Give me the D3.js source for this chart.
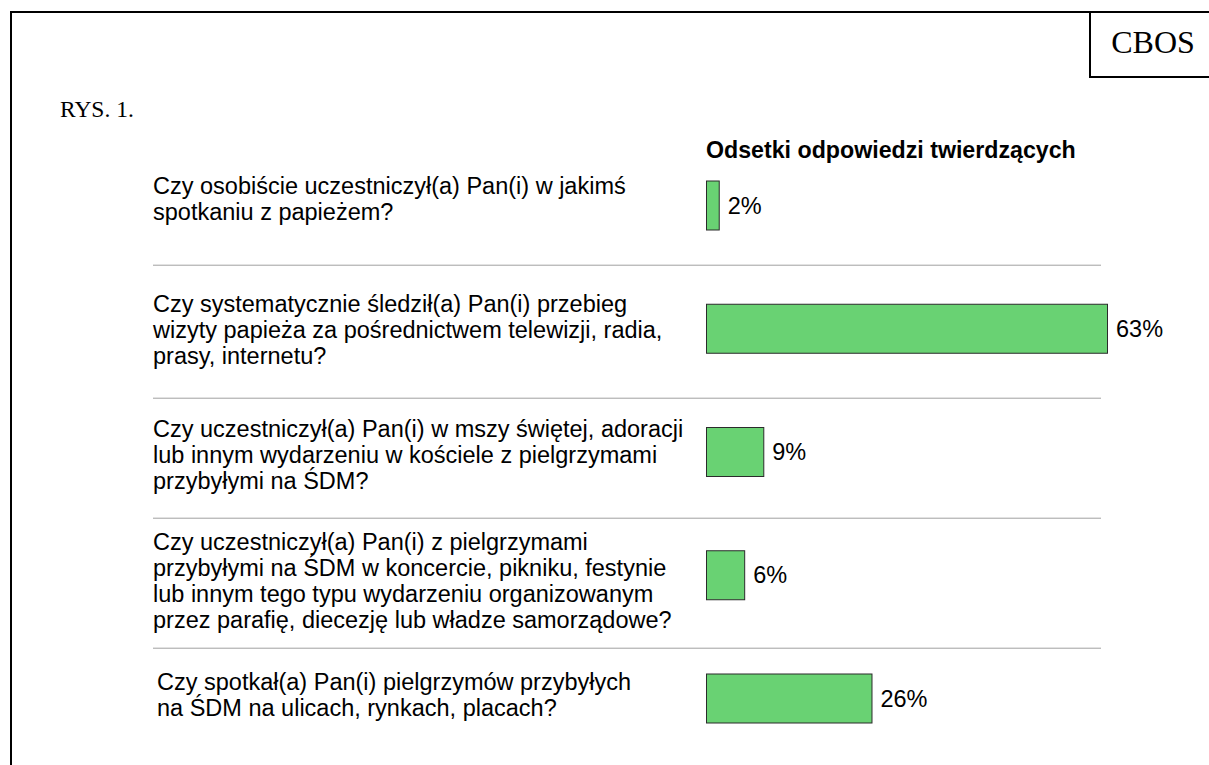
<!DOCTYPE html>
<html>
<head>
<meta charset="utf-8">
<script src="https://cdn.jsdelivr.net/npm/d3@7"></script>
<style>
  html, body { margin: 0; padding: 0; background: #fff; }
  svg { display: block; }
</style>
</head>
<body>
<svg id="chart" width="1209" height="765"></svg>
<script>
// ---- data ----
const categories = ["q1", "q2", "q3", "q4", "q5"];
const questionLines = [
  ["Czy osobiście uczestniczył(a) Pan(i) w jakimś", "spotkaniu z papieżem?"],
  ["Czy systematycznie śledził(a) Pan(i) przebieg", "wizyty papieża za pośrednictwem telewizji, radia,", "prasy, internetu?"],
  ["Czy uczestniczył(a) Pan(i) w mszy świętej, adoracji", "lub innym wydarzeniu w kościele z pielgrzymami", "przybyłymi na ŚDM?"],
  ["Czy uczestniczył(a) Pan(i) z pielgrzymami", "przybyłymi na ŚDM w koncercie, pikniku, festynie", "lub innym tego typu wydarzeniu organizowanym", "przez parafię, diecezję lub władze samorządowe?"],
  ["Czy spotkał(a) Pan(i) pielgrzymów przybyłych", "na ŚDM na ulicach, rynkach, placach?"]
];
const values = [2, 63, 9, 6, 26];
const headerText = "Odsetki odpowiedzi twierdzących";
const figLabel = "RYS. 1.";
const brand = "CBOS";

// ---- layout ----
const svg = d3.select("#chart");
const sans = "'Liberation Sans', Arial, Helvetica, sans-serif";
const serif = "'Liberation Serif', 'Times New Roman', serif";

const x = d3.scaleLinear().domain([0, 63]).range([706, 1107]);
const y = d3.scalePoint().domain(categories).range([205, 698]);
const barH = 49;
const textX = [153, 153, 153, 153, 157];
const textShift = [-6, 2, 3, 6, -3];
const lineGap = 26;
const sepFrac = [0.48, 0.56, 0.53, 0.586];
const fs = 23.5;

// frame
svg.append("line").attr("x1", 11).attr("x2", 11).attr("y1", 11).attr("y2", 765)
  .attr("stroke", "#000").attr("stroke-width", 2);
svg.append("line").attr("x1", 10).attr("x2", 1209).attr("y1", 12).attr("y2", 12)
  .attr("stroke", "#000").attr("stroke-width", 2);
// CBOS box
svg.append("line").attr("x1", 1090).attr("x2", 1090).attr("y1", 12).attr("y2", 77)
  .attr("stroke", "#000").attr("stroke-width", 2);
svg.append("line").attr("x1", 1089).attr("x2", 1209).attr("y1", 77).attr("y2", 77)
  .attr("stroke", "#000").attr("stroke-width", 2);
svg.append("text").attr("x", 1153).attr("y", 53).attr("text-anchor", "middle")
  .attr("font-family", serif).attr("font-size", 32).attr("fill", "#000").text(brand);

// figure label
svg.append("text").attr("x", 60).attr("y", 117)
  .attr("font-family", serif).attr("font-size", 23.5).attr("fill", "#000").text(figLabel);

// header
svg.append("text").attr("x", 706).attr("y", 158)
  .attr("font-family", sans).attr("font-size", 23.2).attr("font-weight", "bold")
  .attr("fill", "#000").text(headerText);

// separators
for (let i = 0; i < categories.length - 1; i++) {
  const y0 = Math.round(y(categories[i]) + sepFrac[i] * y.step());
  svg.append("line").attr("x1", 153).attr("x2", 1101).attr("y1", y0 + 0.5).attr("y2", y0 + 0.5)
    .attr("stroke", "#e2e2e2").attr("stroke-width", 1);
  svg.append("line").attr("x1", 153).attr("x2", 1101).attr("y1", y0 + 1.5).attr("y2", y0 + 1.5)
    .attr("stroke", "#bdbdbd").attr("stroke-width", 1);
}

// questions
categories.forEach((c, i) => {
  const lines = questionLines[i];
  const cy = y(c) + textShift[i];
  const first = cy - (lines.length - 1) * lineGap / 2 + 8;
  const t = svg.append("text").attr("font-family", sans).attr("font-size", fs).attr("fill", "#000");
  lines.forEach((ln, j) => {
    t.append("tspan").attr("x", textX[i]).attr("y", first + j * lineGap).text(ln);
  });
});

// bars
svg.selectAll("rect.bar").data(values).join("rect")
  .attr("class", "bar")
  .attr("x", x(0) + 0.5)
  .attr("y", (d, i) => y(categories[i]) - barH / 2 + 0.5)
  .attr("width", d => x(d) - x(0))
  .attr("height", barH)
  .attr("fill", "#69d273")
  .attr("stroke", "#2b2b2b")
  .attr("stroke-width", 1);

// value labels
svg.selectAll("text.val").data(values).join("text")
  .attr("class", "val")
  .attr("x", d => x(d) + 9)
  .attr("y", (d, i) => y(categories[i]) + 8.5)
  .attr("font-family", sans).attr("font-size", fs).attr("fill", "#000")
  .text(d => d + "%");
</script>
</body>
</html>
